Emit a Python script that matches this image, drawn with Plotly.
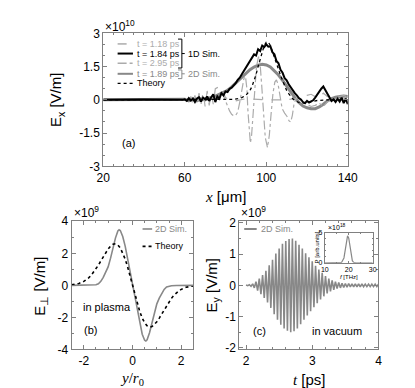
import plotly.graph_objects as go

# ---- panel (a): E_x along x, units of 1e10 V/m ----
x_18 = [20, 58, 60, 62, 63, 64, 65, 66, 67, 68, 69, 70, 71, 72, 73, 74, 75, 76, 77, 78, 79, 80,
        82, 85, 90, 100, 110, 115, 118, 120, 122, 124, 126, 128, 130, 132, 134, 136, 138, 140]
e_118 = [0, 0, 0.05, -0.1, 0.15, -0.2, 0.2, -0.25, 0.3, -0.2, 0.35, -0.3, 0.4, -0.25, 0.3, -0.2,
         0.5, 0.55, 0.4, 0.2, 0.3, 0.1, 0.0, -0.05, 0.05, 0, 0, 0.05, 0.1, 0.2, 0.25, 0.15, 0.1,
         0.3, 0.15, 0.2, 0.25, 0.15, 0.2, 0.1]

x_1d = [20, 40, 59] + list(range(60, 141))
e_184 = [0, 0.02, 0,
         0.02, -0.05, 0.08, -0.03, 0.05, -0.1, 0.06, 0.12, -0.08, 0.1,
         0.02, 0.15, -0.05, 0.12, 0.25, -0.1, 0.15, 0.05, 0.3, 0.2,
         0.38, 0.35, 0.5, 0.55, 0.65, 0.75, 0.9, 1.0, 1.15, 1.3,
         1.45, 1.6, 1.72, 1.9, 2.05, 2.0, 2.28, 2.2, 2.45, 2.38,
         2.5, 2.4, 2.42, 2.15, 2.05, 1.75, 1.65, 1.35, 1.22, 0.98,
         0.88, 0.7, 0.55, 0.45, 0.3, 0.2, 0.08, 0.02, -0.1, -0.15,
         -0.05, -0.12, -0.08, -0.02, 0.1, 0.25, 0.35, 0.5, 0.6, 0.45,
         0.25, 0.1, -0.05, 0.02, -0.1, 0.05, -0.08, 0.1, -0.15, 0.05,
         -0.2]

x_295 = [20, 60, 64, 68, 70, 72, 74, 76, 78, 79, 80, 81, 82, 83, 84, 85, 86, 87, 88, 89, 89.8,
         90.5, 91, 91.6, 92.2, 92.8, 93.5, 94.3, 95.2, 96.2, 97, 97.8, 98.6, 99.5, 100.6, 101.5,
         102.4, 103.3, 104.2, 105, 105.8, 106.8, 107.8, 109, 110.2, 111.2, 112, 112.8, 113.6,
         114.5, 116, 118, 120, 122, 124, 126, 128, 130, 132, 134, 136, 138, 140]
e_295 = [0, 0, 0.05, -0.1, 0.1, -0.05, 0.15, 0.05, 0.3, 0.2, -0.05, -0.3, -0.5, -0.65, -0.72,
         -0.7, -0.55, -0.1, 0.5, 0.95, 1.05, 0.5, -0.5, -1.5, -1.95, -1.6, -0.6, 0.5, 1.5, 1.95,
         1.6, 0.6, -0.6, -1.7, -2.15, -1.6, -0.6, 0.3, 0.8, 0.9, 0.7, 0.1, -0.4, -0.6, -0.75,
         -0.95, -1.0, -0.7, -0.2, 0.05, 0.05, -0.1, -0.2, -0.3, -0.25, -0.15, -0.3, -0.1, 0.05,
         -0.05, 0.05, 0.1, 0]

x_2d = [20, 55, 60, 62, 64, 66, 68, 70, 72, 74, 76, 78, 80, 82, 84, 86, 88, 90, 92, 94, 96, 98,
        100, 102, 104, 106, 108, 110, 112, 114, 116, 118, 120, 122, 124, 126, 128, 130, 132,
        134, 136, 138, 140]
e_189 = [0, 0, 0.03, -0.05, 0.06, -0.04, 0.05, 0.0, 0.08, 0.12, 0.2, 0.3, 0.38, 0.5, 0.68,
         0.85, 1.03, 1.2, 1.36, 1.48, 1.56, 1.6, 1.57, 1.48, 1.32, 1.12, 0.88, 0.6, 0.35, 0.1,
         -0.12, -0.28, -0.36, -0.4, -0.4, -0.32, -0.2, -0.05, 0.05, 0.12, 0.15, 0.17, 0.15]

x_th = [20, 80, 84, 86, 88, 90, 91, 92, 93, 94, 95, 96, 97, 98, 99, 100, 101, 102, 103, 104,
        105, 106, 107, 108, 109, 110, 111, 112, 113, 114, 116, 118, 120, 122, 125, 130, 140]
e_th = [0, 0, 0.02, 0.05, 0.1, 0.2, 0.3, 0.42, 0.6, 0.85, 1.15, 1.5, 1.85, 2.2, 2.45, 2.6,
        2.6, 2.45, 2.2, 1.95, 1.65, 1.38, 1.1, 0.85, 0.62, 0.42, 0.28, 0.15, 0.05, -0.03,
        -0.12, -0.15, -0.12, -0.07, -0.03, 0, 0]

# ---- panel (b): transverse field, units of 1e9 V/m ----
y_r0 = [-2.5, -2.0, -1.8, -1.6, -1.5, -1.4, -1.3, -1.2, -1.1, -1.0, -0.9, -0.8, -0.7, -0.6,
        -0.55, -0.5, -0.4, -0.3, -0.2, -0.1, 0, 0.1, 0.2, 0.3, 0.4, 0.5, 0.55, 0.6, 0.7, 0.8,
        0.9, 1.0, 1.1, 1.2, 1.3, 1.4, 1.5, 1.6, 1.8, 2.0, 2.5]
eperp_sim = [0, 0, 0.01, 0.02, 0.04, 0.1, 0.25, 0.5, 0.8, 1.15, 1.7, 2.35, 2.95, 3.4, 3.47,
             3.42, 3.05, 2.45, 1.65, 0.85, 0, -0.85, -1.65, -2.45, -3.05, -3.42, -3.47, -3.4,
             -2.95, -2.35, -1.7, -1.15, -0.8, -0.5, -0.25, -0.1, -0.04, -0.02, -0.01, 0, 0]
y_th = [-2.5, -2.4, -2.2, -2.0, -1.9, -1.8, -1.7, -1.6, -1.5, -1.4, -1.3, -1.2, -1.1, -1.0,
        -0.9, -0.8, -0.7, -0.6, -0.5, -0.4, -0.3, -0.2, -0.1, 0, 0.1, 0.2, 0.3, 0.4, 0.5, 0.6,
        0.7, 0.8, 0.9, 1.0, 1.1, 1.2, 1.3, 1.4, 1.5, 1.6, 1.7, 1.8, 1.9, 2.0, 2.2, 2.4, 2.5]
eperp_th = [0.04, 0.06, 0.12, 0.25, 0.35, 0.47, 0.62, 0.81, 1.02, 1.26, 1.52, 1.78, 2.04,
            2.27, 2.45, 2.57, 2.6, 2.52, 2.34, 2.04, 1.64, 1.15, 0.59, 0, -0.59, -1.15, -1.64,
            -2.04, -2.34, -2.52, -2.6, -2.57, -2.45, -2.27, -2.04, -1.78, -1.52, -1.26, -1.02,
            -0.81, -0.62, -0.47, -0.35, -0.25, -0.12, -0.06, -0.04]

# ---- panel (c): E_y in vacuum vs time (field extrema), units of 1e9 V/m ----
t_ps = [2.0, 2.025, 2.05, 2.075, 2.1, 2.125, 2.15, 2.175, 2.2, 2.225, 2.25, 2.275, 2.3, 2.325,
        2.35, 2.375, 2.4, 2.425, 2.45, 2.475, 2.5, 2.525, 2.55, 2.575, 2.6, 2.625, 2.65, 2.675,
        2.7, 2.725, 2.75, 2.775, 2.8, 2.825, 2.85, 2.875, 2.9, 2.925, 2.95, 2.975, 3.0, 3.025,
        3.05, 3.075, 3.1, 3.125, 3.15, 3.175, 3.2, 3.225, 3.25, 3.275, 3.3, 3.325, 3.35, 3.375,
        3.4, 3.425, 3.45, 3.475, 3.5, 3.525, 3.55, 3.575, 3.6, 3.625, 3.65, 3.675, 3.7, 3.725,
        3.75, 3.775, 3.8, 3.825, 3.85, 3.875, 3.9, 3.925, 3.95, 3.975, 4.0]
ey = [0.01, -0.01, 0.02, -0.03, 0.05, -0.08, 0.12, -0.17, 0.22, -0.28, 0.33, -0.4, 0.47,
      -0.55, 0.64, -0.72, 0.82, -0.92, 1.02, -1.1, 1.18, -1.26, 1.33, -1.38, 1.42, -1.45, 1.48,
      -1.5, 1.5, -1.47, 1.43, -1.38, 1.3, -1.24, 1.18, -1.1, 1.03, -0.96, 0.9, -0.83, 0.77,
      -0.7, 0.63, -0.57, 0.51, -0.45, 0.4, -0.35, 0.3, -0.26, 0.22, -0.19, 0.16, -0.14, 0.12,
      -0.1, 0.09, -0.08, 0.07, -0.07, 0.06, -0.06, 0.06, -0.05, 0.05, -0.05, 0.05, -0.05, 0.05,
      -0.05, 0.05, -0.04, 0.04, -0.04, 0.04, -0.04, 0.04, -0.04, 0.04, -0.04, 0.04]

# ---- inset: spectrum, units of 1e18 ----
f_thz = [10, 16, 17, 18, 18.5, 19, 19.5, 20, 20.5, 21, 21.5, 22, 23, 30]
p_arb = [0, 0, 0.05, 0.8, 2.0, 3.6, 4.5, 4.1, 2.6, 1.2, 0.35, 0.08, 0, 0]

W, H = 415, 388
FONT = 'Liberation Sans, Arial, sans-serif'
SERIF = 'Liberation Serif, Times New Roman, serif'
FRAME = '#808080'
GRAY = '#888888'
LIGHT = '#ababab'


def px(X):
    return X / W


def py(Y):
    return 1 - Y / H


def axis(domain, rng, tickvals, ticktext, minor, anchor, size=12, ticklen=4):
    return dict(domain=domain, range=rng, tickvals=tickvals, ticktext=ticktext, anchor=anchor,
                showline=True, linecolor=FRAME, linewidth=1, mirror='allticks',
                ticks='inside', ticklen=ticklen, tickcolor=FRAME, tickwidth=1,
                minor=dict(dtick=minor, ticks='inside', ticklen=ticklen / 2,
                           tickcolor=FRAME, tickwidth=1, tick0=0),
                showgrid=False, zeroline=False,
                tickfont=dict(family=FONT, size=size, color='black'))


fig = go.Figure()

# panel (a)
fig.add_trace(go.Scatter(x=x_2d, y=e_189, mode='lines', line=dict(color=GRAY, width=3),
                         xaxis='x', yaxis='y'))
fig.add_trace(go.Scatter(x=x_18, y=e_118, mode='lines',
                         line=dict(color=LIGHT, width=1.2, dash='dash'), xaxis='x', yaxis='y'))
fig.add_trace(go.Scatter(x=x_295, y=e_295, mode='lines',
                         line=dict(color=LIGHT, width=1.2, dash='dashdot'), xaxis='x', yaxis='y'))
fig.add_trace(go.Scatter(x=x_1d, y=e_184, mode='lines', line=dict(color='black', width=2),
                         xaxis='x', yaxis='y'))
fig.add_trace(go.Scatter(x=x_th, y=e_th, mode='lines',
                         line=dict(color='black', width=1.3, dash='dot'), xaxis='x', yaxis='y'))

# panel (b)
fig.add_trace(go.Scatter(x=y_r0, y=eperp_sim, mode='lines', line=dict(color=GRAY, width=1.6),
                         xaxis='x2', yaxis='y2'))
fig.add_trace(go.Scatter(x=y_th, y=eperp_th, mode='lines',
                         line=dict(color='black', width=1.6, dash='dot'), xaxis='x2', yaxis='y2'))

# panel (c)
fig.add_trace(go.Scatter(x=t_ps, y=ey, mode='lines', line=dict(color=GRAY, width=1.6),
                         xaxis='x3', yaxis='y3'))

# inset
fig.add_trace(go.Scatter(x=f_thz, y=p_arb, mode='lines', line=dict(color=GRAY, width=1.2),
                         xaxis='x4', yaxis='y4'))

fig.update_layout(
    width=W, height=H, margin=dict(l=0, r=0, t=0, b=0),
    paper_bgcolor='white', plot_bgcolor='white', showlegend=False,
    xaxis=axis([px(92), px(347)], [20, 140], [20, 60, 100, 140], ['20', '60', '100', '140'], 5,
               'y'),
    yaxis=axis([py(157), py(19)], [-3, 3], [-3, -1.5, 0, 1.5, 3],
               ['-3', '-1.5', '0', '1.5', '3'], 0.5, 'x'),
    xaxis2=axis([px(59), px(186)], [-2.5, 2.5], [-2, 0, 2], ['-2', '0', '2'], 0.5, 'y2'),
    yaxis2=axis([py(347), py(214)], [-4, 4], [-4, -2, 0, 2, 4], ['-4', '-2', '0', '2', '4'], 1,
                'x2'),
    xaxis3=axis([px(234), px(379)], [1.9, 4.0], [2, 3, 4], ['2', '3', '4'], 0.2, 'y3'),
    yaxis3=axis([py(347), py(214)], [-2.05, 2.05], [-2, -1, 0, 1, 2],
                ['-2', '-1', '0', '1', '2'], 0.5, 'x3'),
    xaxis4=axis([px(323), px(373)], [10, 30], [10, 20, 30], ['10', '20', '30'], 5, 'y4',
                size=7, ticklen=2),
    yaxis4=axis([py(257), py(226)], [0, 5], [0, 5], ['0', '5'], 1, 'x4', size=7, ticklen=2),
)

ann = []


def text(X, Y, s, size=10, color='black', xanchor='left', family=FONT, angle=0):
    ann.append(dict(x=px(X), y=py(Y), xref='paper', yref='paper', text=s, showarrow=False,
                    xanchor=xanchor, yanchor='middle', textangle=angle,
                    font=dict(family=family, size=size, color=color)))


shapes = []


def seg(X0, Y0, X1, Y1, color='black', width=1, dash='solid'):
    shapes.append(dict(type='line', xref='paper', yref='paper', x0=px(X0), y0=py(Y0),
                       x1=px(X1), y1=py(Y1), line=dict(color=color, width=width, dash=dash)))


# legend of panel (a)
leg = [(30, LIGHT, 1.5, 'dash', 't = 1.18 ps', LIGHT),
       (40, 'black', 2, 'solid', 't = 1.84 ps', 'black'),
       (50, LIGHT, 1.5, 'dashdot', 't = 2.95 ps', LIGHT),
       (61, GRAY, 2, 'solid', 't = 1.89 ps', GRAY),
       (71, 'black', 1.3, 'dot', 'Theory', 'black')]
for Y, c, w, d, s, tc in leg:
    seg(107, Y, 123, Y, c, w, d)
    text(125, Y, s, 9, tc)
# brackets
seg(170, 25, 174, 25)
seg(174, 25, 174, 55)
seg(170, 55, 174, 55)
seg(174, 40, 177, 40)
text(178, 40, '1D Sim.', 9)
seg(170, 57, 174, 57, GRAY)
seg(174, 57, 174, 66, GRAY)
seg(170, 66, 174, 66, GRAY)
seg(174, 61, 177, 61, GRAY)
text(178, 61, '2D Sim.', 9, GRAY)

# legend of panel (b)
seg(133, 222, 143, 222, GRAY, 1.6)
text(144, 222, '2D Sim.', 9, GRAY)
seg(133, 240, 143, 240, 'black', 1.6, 'dot')
text(144, 240, 'Theory', 9)

# legend of panel (c)
seg(239, 222, 252, 222, GRAY, 2)
text(254, 222, '2D Sim.', 9, GRAY)

# exponents
text(92, 11, '×10<sup>10</sup>', 12)
text(59, 204, '×10<sup>9</sup>', 12)
text(234, 204, '×10<sup>9</sup>', 12)
text(324, 220, '×10<sup>18</sup>', 7)

# panel labels
text(110, 133, '(a)', 11)
text(70, 327, '(b)', 11)
text(246, 328, '(c)', 11)
text(96, 303, 'in plasma', 11, xanchor='center')
text(336, 328, 'in vacuum', 11, xanchor='center')

# axis titles
text(44, 88, 'E<sub>x</sub> [V/m]', 15, xanchor='center', angle=-90)
text(219, 188, "<span style='font-family:Liberation Serif'><i>x</i></span> [μm]", 15,
     xanchor='center')
text(27, 281, 'E<sub>⊥</sub> [V/m]', 15, xanchor='center', angle=-90)
text(122, 378, '<i>y</i>/<i>r</i><sub>0</sub>', 15, xanchor='center', family=SERIF)
text(206, 281, 'E<sub>y</sub> [V/m]', 15, xanchor='center', angle=-90)
text(307, 378, "<span style='font-family:Liberation Serif'><i>t</i></span> [ps]", 15,
     xanchor='center')
text(348, 272, '<i>f</i> [THz]', 6, xanchor='center')
text(315, 241, 'P [arb.units]', 6, xanchor='center', angle=-90)

fig.update_layout(annotations=ann, shapes=shapes)

fig.write_html("out.html")
